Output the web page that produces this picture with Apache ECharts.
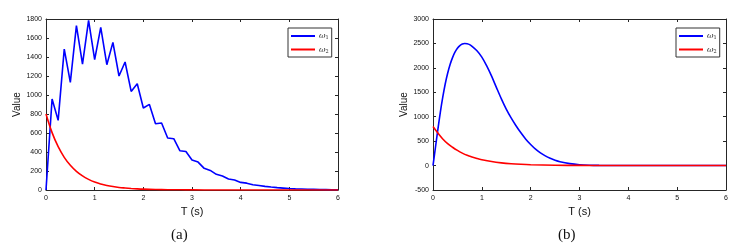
<!DOCTYPE html>
<html>
<head>
<meta charset="utf-8">
<script src="https://cdn.jsdelivr.net/npm/echarts@6/dist/echarts.min.js"></script>
<style>
html,body{margin:0;padding:0;background:#fff;}
#c{width:745px;height:249px;}
</style>
</head>
<body>
<div id="c"></div>
<script>
// ---- Panel (a) ----
const tA = [0,0.125,0.25,0.375,0.5,0.625,0.75,0.875,1,1.125,1.25,1.375,1.5,1.625,1.75,1.875,2,2.125,2.25,2.375,2.5,2.625,2.75,2.875,3,3.125,3.25,3.375,3.5,3.625,3.75,3.875,4,4.125,4.25,4.375,4.5,4.625,4.75,4.875,5,5.125,5.25,5.375,5.5,5.625,5.75,5.875,6];
const w1A = [0,958,733,1484,1133,1730,1326,1786,1372,1712,1319,1554,1200,1347,1038,1119,863,901,698,705,547,540,414,405,315,294,228,206,165,147,115,105,80,72,56,47,38,31,25,20,15,12,10,8,7,5,4,3,3];
const tA2 = [0,0.125,0.25,0.375,0.5,0.625,0.75,0.875,1,1.125,1.25,1.375,1.5,1.625,1.75,1.875,2,2.25,2.5,2.75,3,3.5,4,5,6];
const w2A = [800,604,456,344,260,196,148,112,84,64,48,36,27,21,16,12,9,5,3,2,1,0,0,0,0];
// ---- Panel (b) ----
const tB = [0,0.05,0.1,0.15,0.2,0.25,0.3,0.35,0.4,0.45,0.5,0.55,0.6,0.65,0.7,0.75,0.8,0.9,1,1.1,1.2,1.3,1.4,1.5,1.6,1.7,1.8,1.9,2,2.1,2.2,2.3,2.4,2.5,2.6,2.8,3,3.2,3.4,3.6,4,5,6];
const w1B = [0,370,740,1090,1400,1670,1890,2070,2210,2320,2400,2455,2490,2500,2495,2475,2440,2350,2220,2040,1830,1595,1365,1155,975,815,670,540,430,335,260,198,148,108,78,40,18,8,3,1,0,0,0];
const tB2 = [0,0.1,0.2,0.3,0.4,0.5,0.6,0.7,0.8,0.9,1,1.2,1.4,1.6,1.8,2,2.5,3,3.5,4,5,6];
const w2B = [800,665,545,450,375,310,255,210,175,145,120,82,56,38,26,18,7,3,1,0,0,0];
const xTicks = [0,1,2,3,4,5,6];
const seriesNames = ['ω1','ω2'];
const panelLabels = ['(a)','(b)'];

const pairs = (xs, ys) => xs.map((x,i)=>[x, ys[i]]);
const frame = '#262626';
const tickFont = {fontSize:7, color:'#111', fontFamily:'Liberation Sans, Arial, sans-serif'};

function xAxes(gi){
  return [
    {gridIndex:gi, type:'value', min:0, max:6, interval:1, position:'bottom',
     axisLine:{onZero:false, lineStyle:{color:frame, width:1}},
     axisTick:{inside:true, length:3, lineStyle:{color:frame}},
     axisLabel:Object.assign({margin:5, formatter:v=>xTicks.includes(v)?String(v):''}, tickFont),
     splitLine:{show:false},
     name:'T (s)', nameLocation:'middle', nameGap:15,
     nameTextStyle:{fontSize:11, color:'#111', fontFamily:'Liberation Sans, Arial, sans-serif'}},
    {gridIndex:gi, type:'value', min:0, max:6, interval:1, position:'top',
     axisLine:{onZero:false, lineStyle:{color:frame, width:1}},
     axisTick:{inside:true, length:3, lineStyle:{color:frame}},
     axisLabel:{show:false}, splitLine:{show:false}}
  ];
}
function yAxes(gi, mn, mx, itv){
  return [
    {gridIndex:gi, type:'value', min:mn, max:mx, interval:itv, position:'left',
     axisLine:{show:true, onZero:false, lineStyle:{color:frame, width:1}},
     axisTick:{show:true, inside:true, length:3, lineStyle:{color:frame}},
     axisLabel:Object.assign({margin:4, formatter:v=>String(v)}, tickFont),
     splitLine:{show:false},
     name:'Value', nameLocation:'middle', nameGap:21, nameRotate:90,
     nameTextStyle:{fontSize:10, color:'#111', fontFamily:'Liberation Sans, Arial, sans-serif'}},
    {gridIndex:gi, type:'value', min:mn, max:mx, interval:itv, position:'right',
     axisLine:{show:true, onZero:false, lineStyle:{color:frame, width:1}},
     axisTick:{show:true, inside:true, length:3, lineStyle:{color:frame}},
     axisLabel:{show:false}, splitLine:{show:false}}
  ];
}
function legend(left){
  return {
    data: seriesNames, orient:'vertical', left:left, top:28,
    icon:'rect', itemWidth:24, itemHeight:2, itemGap:5,
    padding:[4,3,3,3], backgroundColor:'#fff',
    borderColor:'#333', borderWidth:1, selectedMode:false,
    formatter: n => '{w|ω}{s|' + n.slice(1) + '}',
    textStyle:{ padding:[0,0,0,-1],
      rich:{ w:{fontFamily:'DejaVu Serif, serif', fontStyle:'italic', fontSize:8, color:'#222'},
             s:{fontFamily:'DejaVu Serif, serif', fontSize:5, color:'#222', padding:[4,0,0,0]} } }
  };
}
function line(name, xi, yi, data, color, smooth){
  return {name:name, type:'line', xAxisIndex:xi, yAxisIndex:yi, data:data,
    showSymbol:false, smooth:smooth, lineStyle:{color:color, width:1.6},
    itemStyle:{color:color}, animation:false, clip:true};
}

const chart = echarts.init(document.getElementById('c'));
chart.setOption({
  animation:false,
  backgroundColor:'#fff',
  grid:[
    {left:46, top:19, width:292, height:171},
    {left:433, top:19, width:293, height:171}
  ],
  xAxis: xAxes(0).concat(xAxes(1)),
  yAxis: yAxes(0,0,1800,200).concat(yAxes(1,-500,3000,500)),
  legend:[legend(288), legend(676)],
  series:[
    line(seriesNames[0],0,0,pairs(tA,w1A),'#0000ff',false),
    line(seriesNames[1],0,0,pairs(tA2,w2A),'#ff0000',0.4),
    line(seriesNames[0],2,2,pairs(tB,w1B),'#0000ff',0.3),
    line(seriesNames[1],2,2,pairs(tB2,w2B),'#ff0000',0.4)
  ],
  graphic:[
    {type:'text', left:171, top:228, style:{text:panelLabels[0], font:'15px "Liberation Serif", "DejaVu Serif", serif', fill:'#111'}},
    {type:'text', left:558, top:228, style:{text:panelLabels[1], font:'15px "Liberation Serif", "DejaVu Serif", serif', fill:'#111'}}
  ]
});
</script>
</body>
</html>
